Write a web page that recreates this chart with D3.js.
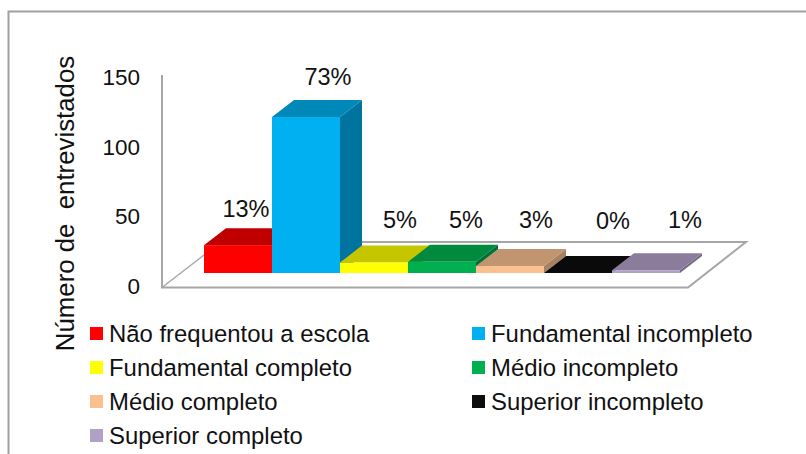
<!DOCTYPE html>
<html><head><meta charset="utf-8">
<style>html,body{margin:0;padding:0;background:#fff}svg{display:block}text{font-family:"Liberation Sans",Arial,sans-serif;fill:#111}</style>
<script src="https://cdn.jsdelivr.net/npm/d3@7"></script></head><body>
<svg id="c" width="806" height="454"></svg>
<script>
const categories=["Não frequentou a escola","Fundamental incompleto","Fundamental completo","Médio incompleto","Médio completo","Superior incompleto","Superior completo"];
const values=[20,112,7.5,8,5,0,2];
const percentLabels=["13%","73%","5%","5%","3%","0%","1%"];
const frontColors=["#ff0000","#00b0f0","#ffff00","#00b050","#fac090","#0d0d0d","#b2a1c7"];
const topColors=["#c00000","#0088b8","#c6c600","#008a3e","#c09570","#0a0a0a","#8a7c9a"];
const sideColors=["#a00000","#00749f","#a8a800","#00703a","#a88260","#060606","#766a85"];
const yTicks=[0,50,100,150];

const svg=d3.select("#c");
const y=d3.scaleLinear().domain([0,150]).range([287,78]);
const x=d3.scaleBand().domain(categories).range([204,680]);
const dx=22,dy=-17,lift=14;
const wall="#a6a6a6";

svg.append("path").attr("d","M8.5,454V11.5H806").attr("fill","none").attr("stroke","#a0a0a0").attr("stroke-width",2);
svg.append("path").attr("d",`M162,75V287.5H688L746,242H230`).attr("fill","none").attr("stroke",wall).attr("stroke-width",2);
svg.append("path").attr("d",`M162,287.5L204,255`).attr("fill","none").attr("stroke",wall).attr("stroke-width",1.5);

const g=svg.append("g").selectAll("g").data(categories.map((c,i)=>({c,i,v:values[i]}))).join("g");
g.each(function(d){
  const s=d3.select(this),x0=x(d.c),x1=x0+x.bandwidth(),b=y(0)-lift,t=y(d.v)-lift;
  s.append("polygon").attr("points",[[x1,b],[x1+dx,b+dy],[x1+dx,t+dy],[x1,t]].join(" ")).attr("fill",sideColors[d.i]);
  s.append("polygon").attr("points",[[x0,t],[x0+dx,t+dy],[x1+dx,t+dy],[x1,t]].join(" ")).attr("fill",topColors[d.i]);
  s.append("rect").attr("x",x0).attr("y",t).attr("width",x.bandwidth()).attr("height",b-t).attr("fill",frontColors[d.i]);
});

const axis=svg.append("g").attr("font-size",22.5);
axis.selectAll("text").data(yTicks).join("text").attr("x",140).attr("y",d=>y(d)+7).attr("text-anchor","end").text(d=>d);

const labelX=[246,328,400,466,536,613,685];
const labelY=[217,85,228,228,228,229,228];
svg.append("g").selectAll("text").data(percentLabels).join("text")
  .attr("x",(d,i)=>labelX[i]).attr("y",(d,i)=>labelY[i]).attr("text-anchor","middle").attr("font-size",23.5).text(d=>d);

svg.append("text").attr("transform","translate(74,203.5) rotate(-90)").attr("text-anchor","middle").attr("font-size",25.8).attr("xml:space","preserve").text("Número de  entrevistados");

const legendX=[90,472],legendY=[342,376,410,444];
const leg=svg.append("g").selectAll("g").data(categories).join("g")
  .attr("transform",(d,i)=>`translate(${legendX[i%2]},${legendY[Math.floor(i/2)]})`);
leg.append("rect").attr("y",-15).attr("width",13).attr("height",13).attr("fill",(d,i)=>frontColors[i]);
leg.append("text").attr("x",19).attr("y",0).attr("font-size",23.9).text(d=>d);
</script></body></html>
